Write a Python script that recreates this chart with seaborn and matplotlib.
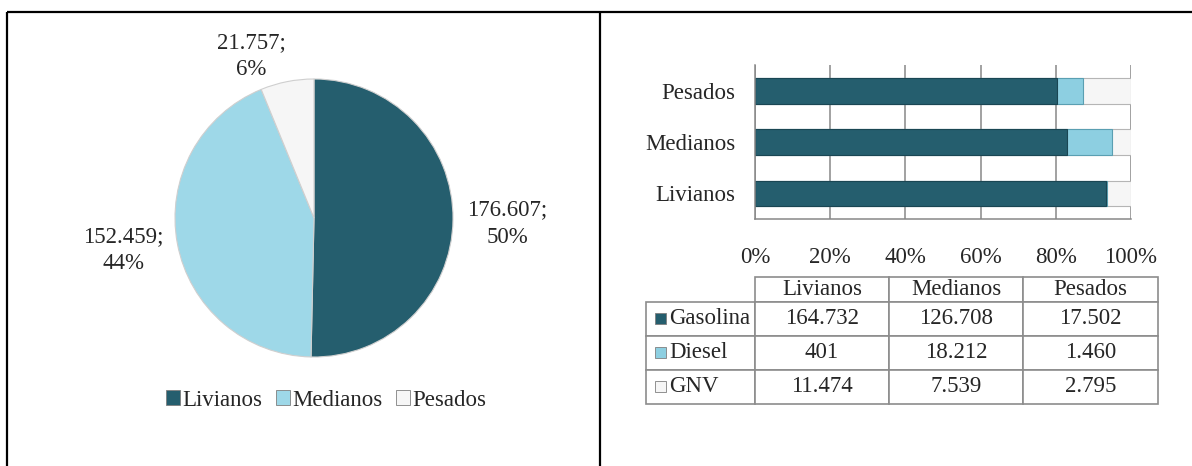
import matplotlib
matplotlib.use("Agg")
import matplotlib.pyplot as plt
from matplotlib.patches import Patch, Rectangle
import numpy as np
import seaborn as sns

# data
vehicle_types = ["Livianos", "Medianos", "Pesados"]
fuel_types = ["Gasolina", "Diesel", "GNV"]
gasolina = [164732, 126708, 17502]
diesel = [401, 18212, 1460]
gnv = [11474, 7539, 2795]
pct_ticks = [0, 20, 40, 60, 80, 100]

dark_teal = "#255E6E"
light_blue = "#9ED8E8"
off_white = "#F6F6F6"
pie_colors = [dark_teal, light_blue, off_white]
fuel_colors = [dark_teal, "#8DCFE1", off_white]

W, H = 1192, 466
FS = 16.5


def px_rect(left, top, right, bottom):
    """Figure-fraction rect from pixel box (origin top-left)."""
    return [left / W, 1 - bottom / H, (right - left) / W, (bottom - top) / H]


def fmt_es(v):
    return f"{v:,}".replace(",", ".")


def round_to_100(values):
    # largest remainder so the shares add up to 100
    raw = 100 * np.asarray(values, float) / np.sum(values)
    out = np.floor(raw).astype(int)
    rest = 100 - out.sum()
    for i in np.argsort(raw - out)[::-1][:rest]:
        out[i] += 1
    return out


sns.set_theme(style="white")
plt.rcParams["font.family"] = ["Liberation Serif", "DejaVu Serif"]

fig = plt.figure(figsize=(W / 100, H / 100), dpi=100)

# page frame lines
frame = fig.add_axes([0, 0, 1, 1])
frame.set_xlim(0, W)
frame.set_ylim(H, 0)
frame.axis("off")
frame.plot([7, W], [12, 12], color="black", lw=1.6, solid_capstyle="butt")
frame.plot([7, 7], [12, H], color="black", lw=1.6, solid_capstyle="butt")
frame.plot([600, 600], [12, H], color="black", lw=1.6, solid_capstyle="butt")

# ---- pie ----
totals = np.array(gasolina) + np.array(diesel) + np.array(gnv)
shares = round_to_100(totals)

pie_ax = fig.add_axes(px_rect(175, 79, 453, 357))
wedges, _ = pie_ax.pie(
    totals,
    colors=pie_colors,
    startangle=90,
    counterclock=False,
    wedgeprops=dict(edgecolor="#CFCFCF", linewidth=0.8),
)
pie_ax.set_xlim(-1, 1)
pie_ax.set_ylim(-1, 1)
pie_ax.set_aspect("equal")

# outside-end labels: nearest corner of the text sits just outside the rim
for w, tot, pct in zip(wedges, totals, shares):
    ang = np.deg2rad((w.theta1 + w.theta2) / 2)
    x, y = np.cos(ang), np.sin(ang)
    dist = 1.1 if abs(y) < 0.6 else 1.04
    ha = "left" if x > 0 else "right"
    va = "bottom" if y > 0.6 else ("top" if y < -0.6 else "center")
    pie_ax.text(dist * x, dist * y - 0.03, f"{fmt_es(tot)};\n{pct}%",
                ha=ha, va=va, multialignment="center",
                fontsize=FS, linespacing=1.4)

pie_handles = [Patch(facecolor=c, edgecolor="#7F7F7F", linewidth=0.6)
               for c in pie_colors]
fig.legend(pie_handles, vehicle_types, loc="center",
           bbox_to_anchor=(326 / W, 1 - 400 / H), ncol=3, frameon=False,
           fontsize=FS, handlelength=0.6, handleheight=0.6,
           handletextpad=0.1, columnspacing=0.6)

# ---- 100% stacked bars ----
g = np.array(gasolina) / totals * 100
d = np.array(diesel) / totals * 100
n = np.array(gnv) / totals * 100
bar_order = ["Pesados", "Medianos", "Livianos"]

bar_ax = fig.add_axes(px_rect(755, 65, 1131, 219))
layers = [(g + d + n, fuel_colors[2], "#B5B5B5"),
          (g + d, fuel_colors[1], "#5A9FB2"),
          (g, fuel_colors[0], "#1A4653")]
for vals, col, edge in layers:
    sns.barplot(x=vals, y=vehicle_types, order=bar_order, color=col,
                width=0.5, orient="h", errorbar=None, edgecolor=edge,
                linewidth=0.8, saturation=1, ax=bar_ax)

bar_ax.set_xlim(0, 100)
bar_ax.set_ylim(2.5, -0.5)
bar_ax.set_xticks(pct_ticks)
bar_ax.set_xticklabels([f"{t}%" for t in pct_ticks])
bar_ax.set_xlabel("")
bar_ax.set_ylabel("")
bar_ax.xaxis.grid(True, color="#878787", linewidth=1.1)
bar_ax.set_axisbelow(True)
for side in ["top", "right"]:
    bar_ax.spines[side].set_visible(False)
for side in ["left", "bottom"]:
    bar_ax.spines[side].set_color("#878787")
    bar_ax.spines[side].set_linewidth(1.1)
bar_ax.tick_params(axis="both", length=0, labelsize=FS)
bar_ax.tick_params(axis="y", pad=14)
bar_ax.tick_params(axis="x", pad=20)

# ---- data table ----
col_w = [109, 134, 134, 135]
head_h, row_h = 25, 34
tab_left, tab_top = 646, 277
tab_w = sum(col_w)
tab_h = head_h + row_h * len(fuel_types)

tab_ax = fig.add_axes(px_rect(tab_left, tab_top, tab_left + tab_w, tab_top + tab_h))
tab_ax.axis("off")
cell_text = [[name] + [fmt_es(v) for v in row]
             for name, row in zip(fuel_types, (gasolina, diesel, gnv))]
tbl = tab_ax.table(cellText=cell_text, colLabels=[""] + vehicle_types,
                   cellLoc="center", bbox=[0, 0, 1, 1])
tbl.auto_set_font_size(False)
tbl.set_fontsize(FS)
for (r, c), cell in tbl.get_celld().items():
    cell.set_width(col_w[c])
    cell.set_height(head_h if r == 0 else row_h)
    cell.set_edgecolor("#8C8C8C")
    cell.set_linewidth(1.2)
    if c == 0:
        cell._loc = "left"
        cell.get_text().set_horizontalalignment("left")
        cell.PAD = 23 / col_w[0]
        if r == 0:
            cell.set_edgecolor("none")

for i, col in enumerate(fuel_colors):
    cy = head_h + row_h * i + row_h / 2
    tab_ax.add_patch(Rectangle(((655 - tab_left) / tab_w, 1 - (cy + 5) / tab_h),
                               11 / tab_w, 11 / tab_h, facecolor=col,
                               edgecolor="#7F7F7F", linewidth=0.6,
                               transform=tab_ax.transAxes, clip_on=False,
                               zorder=5))

fig.savefig("out.png", dpi=100)
